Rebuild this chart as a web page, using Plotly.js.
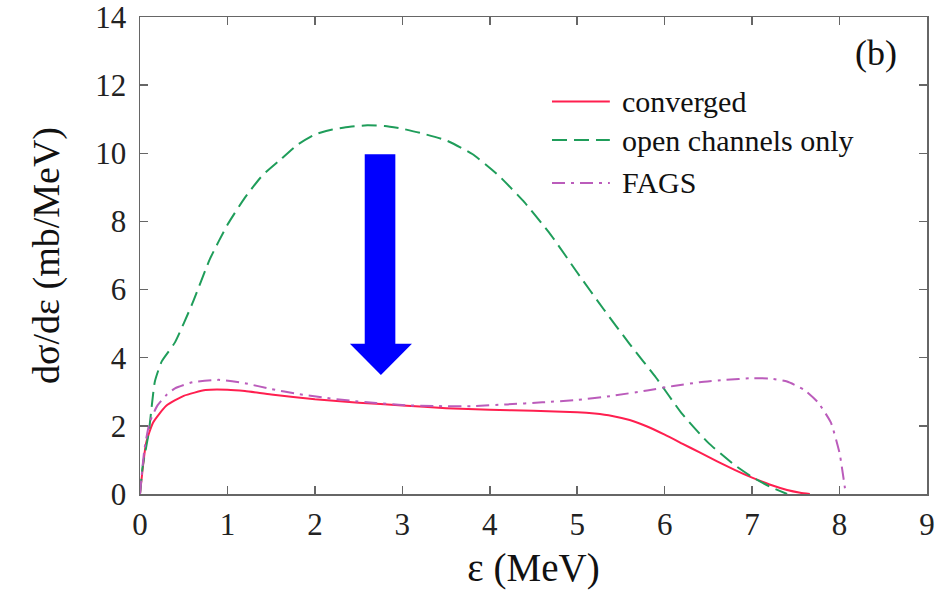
<!DOCTYPE html>
<html>
<head>
<meta charset="utf-8">
<script src="https://cdn.plot.ly/plotly-3.0.1.min.js"></script>
<style>html,body{margin:0;padding:0;background:#fff;}#chart{width:951px;height:590px;}</style>
</head>
<body>
<div id="chart"></div>
<script>
// ---- data ----
const seriesNames = ["converged", "open channels only", "FAGS"];

const convergedX = [0, 0.07, 0.15, 0.3, 0.5, 0.75, 1.0, 1.2, 1.5, 2.0, 2.5, 3.0, 3.5, 4.0, 4.5, 5.0, 5.2, 5.4, 5.6, 5.8, 6.0, 6.2, 6.4, 6.6, 6.8, 7.0, 7.2, 7.4, 7.55, 7.66];
const convergedY = [0, 1.5, 2.1, 2.59, 2.88, 3.05, 3.06, 3.02, 2.92, 2.78, 2.68, 2.6, 2.52, 2.47, 2.44, 2.4, 2.36, 2.29, 2.17, 1.98, 1.74, 1.48, 1.22, 0.96, 0.71, 0.48, 0.28, 0.12, 0.04, 0];

const openX = [0, 0.03, 0.1, 0.17, 0.25, 0.4, 0.6, 0.8, 1.0, 1.2, 1.4, 1.6, 1.8, 2.0, 2.2, 2.4, 2.6, 2.8, 3.0, 3.2, 3.5, 3.8, 4.1, 4.4, 4.7, 5.0, 5.3, 5.6, 5.9, 6.2, 6.5, 6.8, 7.0, 7.2, 7.4];
const openY = [0, 0.8, 1.8, 3.3, 3.9, 4.45, 5.6, 6.9, 7.9, 8.7, 9.35, 9.8, 10.25, 10.55, 10.7, 10.78, 10.82, 10.8, 10.72, 10.6, 10.38, 9.98, 9.35, 8.55, 7.6, 6.5, 5.43, 4.4, 3.42, 2.35, 1.5, 0.85, 0.5, 0.22, 0];

const fagsX = [0, 0.05, 0.11, 0.2, 0.3, 0.4, 0.6, 0.9, 1.2, 1.5, 1.8, 2.1, 2.4, 2.7, 3.0, 3.4, 3.8, 4.2, 4.6, 5.0, 5.4, 5.8, 6.1, 6.4, 6.7, 7.0, 7.2, 7.4, 7.6, 7.75, 7.9, 8.0, 8.06, 8.07];
const fagsY = [0, 1.3, 2.1, 2.6, 2.9, 3.1, 3.28, 3.35, 3.25, 3.08, 2.94, 2.83, 2.74, 2.67, 2.61, 2.58, 2.58, 2.63, 2.69, 2.76, 2.88, 3.04, 3.17, 3.28, 3.35, 3.4, 3.39, 3.3, 3.05, 2.7, 2.1, 1.2, 0.2, 0];

const xTickVals = [0, 1, 2, 3, 4, 5, 6, 7, 8, 9];
const yTickVals = [0, 2, 4, 6, 8, 10, 12, 14];

// ---- styles ----
const colors = ["#ff1f4f", "#1f9d5a", "#bb5cbb"];
const dashes = ["solid", "15px,7px", "13px,6px,3px,6px"];
const FONT = "Liberation Serif";

const traces = [
  {x: convergedX, y: convergedY},
  {x: openX, y: openY},
  {x: fagsX, y: fagsY}
].map((d, i) => ({
  x: d.x, y: d.y, type: "scatter", mode: "lines", name: seriesNames[i],
  line: {color: colors[i], width: 2, dash: dashes[i], shape: "spline", smoothing: 0.5},
  showlegend: false, hoverinfo: "skip"
}));

// manual legend (long sample lines like the reference)
const legendRowsY = [0.823, 0.742, 0.652];
const shapes = [];
const annotations = [];
seriesNames.forEach((n, i) => {
  shapes.push({type: "line", xref: "paper", yref: "paper", x0: 0.5235, x1: 0.597,
    y0: legendRowsY[i], y1: legendRowsY[i], line: {color: colors[i], width: 2, dash: dashes[i]}});
  annotations.push({xref: "paper", yref: "paper", x: 0.61, y: legendRowsY[i], xanchor: "left", yanchor: "middle",
    text: n, showarrow: false, font: {family: FONT, size: 30, color: "#111"}});
});
annotations.push({xref: "paper", yref: "paper", x: 0.935, y: 0.925, xanchor: "center", yanchor: "middle",
  text: "(b)", showarrow: false, font: {family: FONT, size: 36, color: "#111"}});

// big blue arrow (data coordinates)
const ax = {l: 2.57, r: 2.92, top: 9.97, hb: 4.41, hl: 2.40, hr: 3.11, tx: 2.755, ty: 3.49};
shapes.push({type: "path", xref: "x", yref: "y",
  path: `M${ax.l},${ax.top} L${ax.r},${ax.top} L${ax.r},${ax.hb} L${ax.hr},${ax.hb} L${ax.tx},${ax.ty} L${ax.hl},${ax.hb} L${ax.l},${ax.hb} Z`,
  fillcolor: "#0000ff", line: {width: 0}});

const axisCommon = {
  showline: true, mirror: "ticks", linecolor: "#666", linewidth: 1.5,
  ticks: "inside", ticklen: 8, tickwidth: 1.5, tickcolor: "#666",
  showgrid: false, zeroline: false, ticklabeloverflow: "allow",
  tickfont: {family: FONT, size: 31, color: "#222"}
};

const layout = {
  width: 951, height: 590,
  margin: {l: 140, r: 24, t: 17, b: 96},
  paper_bgcolor: "#fff", plot_bgcolor: "#fff",
  xaxis: Object.assign({}, axisCommon, {
    range: [0, 9], tickvals: xTickVals, ticktext: xTickVals.map(String), ticklabelstandoff: 2,
    title: {text: "ε (MeV)", font: {family: FONT, size: 39, color: "#111"}, standoff: 14}
  }),
  yaxis: Object.assign({}, axisCommon, {
    range: [0, 14], tickvals: yTickVals, ticktext: yTickVals.map(String), ticklabelstandoff: 6,
    title: {text: "dσ/dε (mb/MeV)", font: {family: FONT, size: 38, color: "#111"}, standoff: 24}
  }),
  shapes: shapes,
  annotations: annotations
};

Plotly.newPlot("chart", traces, layout, {displayModeBar: false, staticPlot: true});
</script>
</body>
</html>
